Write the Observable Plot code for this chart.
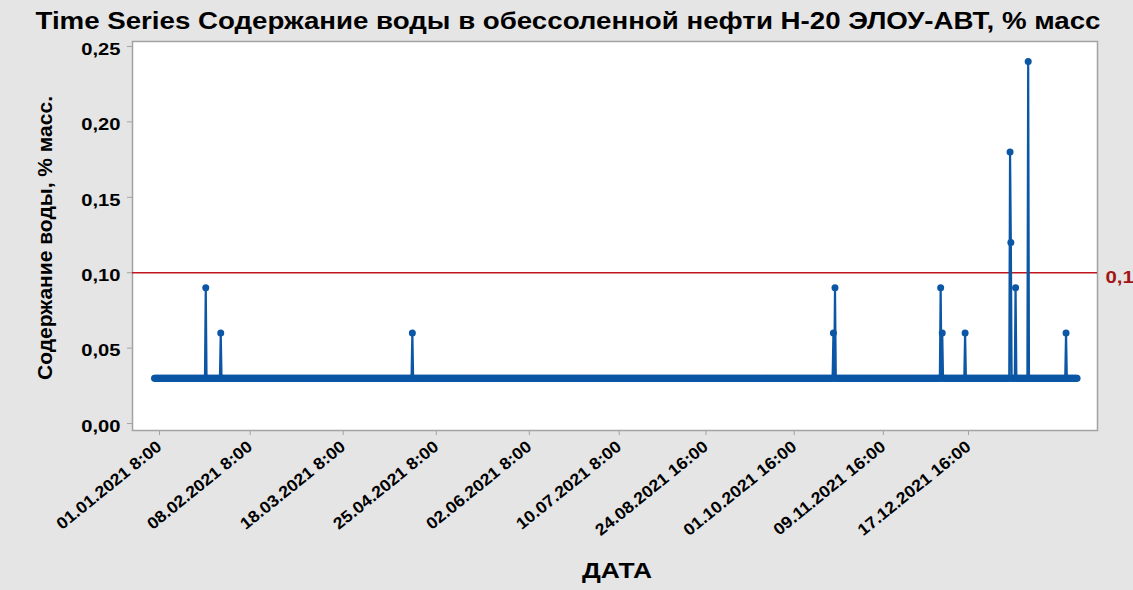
<!DOCTYPE html>
<html>
<head>
<meta charset="utf-8">
<script src="https://cdn.jsdelivr.net/npm/d3@7"></script>
<script src="https://cdn.jsdelivr.net/npm/@observablehq/plot@0.6"></script>
<style>
  html, body { margin: 0; padding: 0; background: #e5e5e5; }
  #chart svg text { font-family: "Liberation Sans", Arial, sans-serif; }
</style>
</head>
<body>
<div id="chart"></div>
<script>
// ---- Data ----
const titleText = "Time Series Содержание воды в обессоленной нефти H-20 ЭЛОУ-АВТ, % масс";
const yLabelText = "Содержание воды, % масс.";
const xLabelText = "ДАТА";

// observation count and the value that most observations take
const nObs = 1171;
const baselineValue = 0.03;

// observations that differ from the baseline (observation index, value)
const spikeIndex = [66, 85, 328, 862, 864, 998, 1000, 1029, 1086, 1087, 1093, 1109, 1157];
const spikeValue = [0.09, 0.06, 0.06, 0.06, 0.09, 0.09, 0.06, 0.06, 0.18, 0.12, 0.09, 0.24, 0.06];

// x-axis tick stamps (observation index and label)
const tickIndex = [1, 116, 234, 352, 470, 584, 694, 806, 919, 1027];
const tickLabels = [
  "01.01.2021 8:00", "08.02.2021 8:00", "18.03.2021 8:00", "25.04.2021 8:00",
  "02.06.2021 8:00", "10.07.2021 8:00", "24.08.2021 16:00", "01.10.2021 16:00",
  "09.11.2021 16:00", "17.12.2021 16:00"
];

const yTicks = [0, 0.05, 0.10, 0.15, 0.20, 0.25];
const limitValue = 0.1;
const limitLabel = "0,1";

// ---- Build table ----
const spikeMap = new Map(spikeIndex.map((i, k) => [i, spikeValue[k]]));
const data = d3.range(1, nObs + 1).map(i => ({i, v: spikeMap.has(i) ? spikeMap.get(i) : baselineValue}));

const blue = "#0b56a5";
const bold = "bold";

const chart = Plot.plot({
  width: 1133,
  height: 590,
  marginLeft: 132,
  marginRight: 36,
  marginTop: 41,
  marginBottom: 160,
  style: {background: "#e5e5e5", fontFamily: "Liberation Sans, Arial, sans-serif"},
  x: {domain: [-26.9, 1196.9]},
  y: {domain: [-0.0046, 0.2533]},
  marks: [
    Plot.frame({fill: "white", stroke: "#a3a3a3", strokeWidth: 1.5}),
    // y tick marks
    Plot.axisY({ticks: yTicks, tickSize: 5, stroke: "#a3a3a3", tickFormat: () => "", label: null}),
    // y tick labels (sit slightly below their ticks, as in the reference)
    Plot.axisY({
      ticks: yTicks, tickSize: 0, tickPadding: 12,
      tickFormat: d => d.toFixed(2).replace(".", ","),
      fontSize: 16.5, fontWeight: bold, fill: "black", label: null, dy: 3
    }),
    Plot.axisX({
      ticks: tickIndex, tickSize: 5, tickPadding: 9, stroke: "#a3a3a3",
      tickFormat: d => tickLabels[tickIndex.indexOf(d)],
      tickRotate: -39, fontSize: 16.5, fontWeight: bold, fill: "black", label: null, dx: 5
    }),
    Plot.ruleY([limitValue], {stroke: "#c0161e", strokeWidth: 1.5}),
    Plot.line(data, {x: "i", y: "v", stroke: blue, strokeWidth: 2.2}),
    Plot.dot(data, {x: "i", y: "v", r: 3.5, fill: blue}),
    Plot.text([limitLabel], {y: [limitValue], text: d => d, frameAnchor: "right", dx: 8, dy: 5, textAnchor: "start",
      fill: "#a31515", fontWeight: bold, fontSize: 17}),
    Plot.text([titleText], {text: d => d, frameAnchor: "top", lineAnchor: "middle", dy: -20, dx: -47, fontSize: 23, fontWeight: bold, fill: "black"}),
    Plot.text([yLabelText], {text: d => d, frameAnchor: "left", textAnchor: "middle", rotate: -90, dx: -87, dy: 2, fontSize: 21, fontWeight: bold, fill: "black"}),
    Plot.text([xLabelText], {text: d => d, frameAnchor: "bottom", lineAnchor: "middle", dy: 140, dx: 2, fontSize: 22, fontWeight: bold, fill: "black"})
  ]
});
document.getElementById("chart").appendChild(chart);

// The reference renders its texts slightly widened; emulate with textLength.
function widen(sel, factor) {
  chart.querySelectorAll(sel).forEach(t => {
    const len = t.getComputedTextLength();
    if (len > 0) {
      t.setAttribute("textLength", (len * factor).toFixed(1));
      t.setAttribute("lengthAdjust", "spacingAndGlyphs");
    }
  });
}
widen('g[aria-label="y-axis tick label"] text', 1.22);
widen('g[aria-label="x-axis tick label"] text', 1.08);
chart.querySelectorAll('g[aria-label="text"] text').forEach(t => {
  if (t.textContent === yLabelText) return;
  const len = t.getComputedTextLength();
  const f = t.textContent === titleText ? 1065 / len : 1.2;
  t.setAttribute("textLength", (len * f).toFixed(1));
  t.setAttribute("lengthAdjust", "spacingAndGlyphs");
});
</script>
</body>
</html>
